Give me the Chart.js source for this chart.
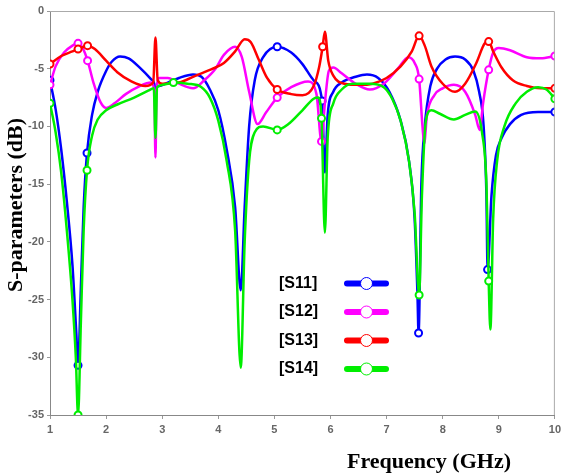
<!DOCTYPE html>
<html>
<head>
<meta charset="utf-8">
<script src="https://cdn.jsdelivr.net/npm/chart.js@4.4.1/dist/chart.umd.min.js"></script>
<style>
  html,body{margin:0;padding:0;background:#fff;}
  #wrap{width:565px;height:475px;position:relative;}
</style>
</head>
<body>
<div id="wrap"><canvas id="c"></canvas></div>
<script>
/* ---------- data ---------- */
const seriesNames = ['[S11]', '[S12]', '[S13]', '[S14]'];
const seriesColors = ['#0000ff', '#ff00ff', '#ff0000', '#00ee00'];
const xTicks = [1, 2, 3, 4, 5, 6, 7, 8, 9, 10];
const yTicks = [0, -5, -10, -15, -20, -25, -30, -35];

const s11Freq = [1.0,1.1,1.2,1.3,1.4,1.47,1.5,1.55,1.6,1.66,1.75,1.85,2.0,2.1,2.25,2.4,2.6,2.8,2.86,2.88,2.9,2.95,3.1,3.3,3.55,3.7,3.85,4.0,4.15,4.3,4.4,4.47,4.55,4.65,4.8,5.05,5.3,5.5,5.7,5.85,5.9,5.95,6.05,6.2,6.45,6.65,6.85,7.05,7.25,7.4,7.5,7.55,7.57,7.62,7.68,7.78,7.9,8.05,8.22,8.4,8.55,8.65,8.73,8.78,8.8,8.87,8.95,9.05,9.2,9.4,9.7,10];
const s11Db   = [-6.0,-8.5,-12,-16.5,-22,-28,-30.7,-24,-17,-12.3,-9,-7,-5.2,-4.4,-3.95,-4.1,-4.9,-5.9,-6.3,-7.0,-6.6,-6.5,-6.2,-5.8,-5.5,-5.7,-6.8,-8.6,-12,-17,-24.2,-17,-10,-6,-4,-3.1,-3.6,-4.6,-6,-7.8,-14,-9,-7,-6.2,-5.7,-5.5,-5.8,-7,-9.5,-13,-18,-24.5,-27.9,-15,-10,-6.5,-5,-4.2,-3.95,-4.2,-5.2,-7,-10,-16,-22.4,-16,-12.5,-11,-9.8,-9.0,-8.75,-8.75];
const s11Marks = [1, 1.5, 1.66, 5.05, 5.85, 7.57, 8.8, 10];

const s12Freq = [1.0,1.1,1.25,1.4,1.5,1.58,1.67,1.78,1.9,2.0,2.15,2.35,2.6,2.8,2.86,2.88,2.9,2.95,3.1,3.3,3.55,3.75,3.95,4.1,4.3,4.42,4.55,4.7,4.85,5.05,5.3,5.6,5.75,5.84,5.9,5.97,6.05,6.2,6.45,6.7,6.95,7.2,7.39,7.5,7.58,7.64,7.67,7.72,7.85,8.0,8.2,8.4,8.58,8.66,8.72,8.82,8.9,9.0,9.2,9.5,9.75,10];
const s12Db   = [-6.4,-4.8,-3.6,-3.0,-2.8,-3.2,-4.3,-6.3,-7.9,-8.4,-8.0,-7.2,-6.5,-6.2,-7,-12.7,-6.8,-5.8,-5.8,-6.3,-6.7,-6.0,-5.0,-3.8,-3.1,-4,-7,-9.8,-8.8,-7.5,-6.6,-6.1,-7.2,-11.3,-8,-5.2,-4.9,-5.4,-6.3,-6.8,-6.3,-5.0,-4.0,-4.5,-5.9,-10,-11.5,-9,-7.3,-6.7,-6.4,-7.0,-9,-10.3,-8,-5.1,-3.6,-3.2,-3.4,-4.0,-4.1,-3.9];
const s12Marks = [1, 1.5, 1.67, 5.05, 5.84, 7.58, 8.82, 10];

const s13Freq = [1.0,1.2,1.4,1.5,1.67,1.8,2.0,2.2,2.45,2.7,2.84,2.88,2.92,3.0,3.3,3.6,3.9,4.1,4.3,4.47,4.58,4.72,4.87,5.05,5.3,5.5,5.7,5.8,5.86,5.9,5.96,6.05,6.25,6.5,6.75,7.0,7.25,7.45,7.58,7.68,7.8,8.0,8.22,8.4,8.6,8.75,8.82,8.9,9.05,9.25,9.5,9.75,10];
const s13Db   = [-4.6,-3.9,-3.5,-3.3,-3.0,-3.3,-4.3,-5.3,-6.1,-6.5,-6.2,-2.3,-6.0,-6.3,-6.2,-5.6,-5.0,-4.5,-3.5,-2.45,-2.7,-4.2,-5.8,-6.8,-7.2,-7.3,-6.5,-4.8,-3.1,-1.8,-4.3,-5.6,-6.3,-6.4,-6.3,-5.8,-4.8,-3.5,-2.15,-3.0,-4.8,-6.3,-7.0,-6.3,-4.5,-2.8,-2.65,-3.5,-4.9,-6.0,-6.5,-6.7,-6.7];
const s13Marks = [1, 1.5, 1.67, 5.05, 5.86, 7.58, 8.82, 10];

const s14Freq = [1.0,1.1,1.2,1.3,1.4,1.46,1.5,1.55,1.6,1.66,1.75,1.85,2.0,2.2,2.5,2.75,2.85,2.88,2.91,3.0,3.2,3.45,3.7,3.85,4.0,4.15,4.3,4.4,4.47,4.55,4.65,4.8,5.05,5.25,5.5,5.7,5.78,5.84,5.9,5.95,6.05,6.2,6.4,6.7,6.95,7.1,7.25,7.4,7.5,7.58,7.63,7.7,7.8,7.95,8.2,8.4,8.58,8.7,8.78,8.82,8.85,8.9,8.97,9.1,9.3,9.5,9.7,9.85,10];
const s14Db   = [-8.0,-10.5,-14,-19,-25,-30,-35,-27,-19,-13.8,-10.8,-9.4,-8.6,-8.1,-7.5,-6.9,-6.7,-11,-6.6,-6.4,-6.2,-6.3,-6.6,-7.5,-9.5,-13,-19,-30.9,-20,-13,-10.5,-10.0,-10.3,-9.8,-8.6,-7.6,-7.5,-9.3,-19.2,-11,-8,-6.8,-6.3,-6.3,-6.6,-7.6,-9.5,-13,-17.5,-24.6,-16,-9.5,-8.6,-8.9,-9.4,-9.0,-8.7,-10.5,-15,-23.4,-27.6,-18,-13,-10,-8,-7,-6.6,-6.8,-7.6];
const s14Marks = [1, 1.5, 1.66, 3.2, 5.05, 5.84, 7.58, 8.82, 10];

const allFreq  = [s11Freq, s12Freq, s13Freq, s14Freq];
const allDb    = [s11Db, s12Db, s13Db, s14Db];
const allMarks = [s11Marks, s12Marks, s13Marks, s14Marks];

/* ---------- helpers ---------- */
const toPts = (fs, ds) => fs.map((f, i) => ({x: f, y: ds[i]}));

const datasets = seriesNames.map((name, k) => ({
  label: name,
  data: toPts(allFreq[k], allDb[k]),
  borderColor: seriesColors[k],
  backgroundColor: '#fff',
  pointBorderColor: seriesColors[k],
  pointBackgroundColor: '#fff',
  borderWidth: 2.5,
  pointBorderWidth: 2,
  pointRadius: ctx => allMarks[k].includes(ctx.raw && ctx.raw.x) ? 3.5 : 0,
  pointHoverRadius: 0,
  cubicInterpolationMode: 'monotone',
  fill: false,
  order: 3 - k          // S14 on top, S11 at the bottom
}));

const titleFont = 'bold 22px "Liberation Serif", "Times New Roman", serif';

/* ---------- frame, axis titles, legend ---------- */
const extras = {
  id: 'extras',
  afterDraw(chart) {
    const {ctx, chartArea: a} = chart;
    ctx.save();
    ctx.strokeStyle = '#aaa';
    ctx.lineWidth = 1;
    ctx.beginPath();
    ctx.moveTo(a.left, a.top + 0.5);
    ctx.lineTo(a.right - 0.5, a.top + 0.5);
    ctx.lineTo(a.right - 0.5, a.bottom);
    ctx.stroke();

    ctx.fillStyle = '#000';
    ctx.font = titleFont;
    ctx.textAlign = 'center';
    ctx.textBaseline = 'middle';
    ctx.fillText('Frequency (GHz)', 429, 462);

    ctx.save();
    ctx.translate(16, 205);
    ctx.rotate(-Math.PI / 2);
    ctx.fillText('S-parameters (dB)', 0, 0);
    ctx.restore();

    // legend inside plot
    seriesNames.forEach((name, i) => {
      const y = 283.5 + i * 28.5;
      ctx.font = 'bold 16px "Liberation Sans", Arial, sans-serif';
      ctx.textAlign = 'left';
      ctx.fillStyle = '#000';
      ctx.fillText(name, 279, y);
      ctx.strokeStyle = seriesColors[i];
      ctx.lineWidth = 6;
      ctx.lineCap = 'round';
      ctx.beginPath();
      ctx.moveTo(347, y);
      ctx.lineTo(386, y);
      ctx.stroke();
      ctx.beginPath();
      ctx.arc(366.5, y, 6, 0, Math.PI * 2);
      ctx.fillStyle = '#fff';
      ctx.fill();
      ctx.lineWidth = 1;
      ctx.stroke();
    });
    ctx.restore();
  }
};

new Chart(document.getElementById('c'), {
  type: 'line',
  data: {datasets},
  options: {
    responsive: true, maintainAspectRatio: false,
    animation: false,
    layout: {padding: {top: 11, right: 4, left: 0, bottom: 0}},
    plugins: {legend: {display: false}, tooltip: {enabled: false}},
    scales: {
      x: {
        type: 'linear', min: 1, max: 10,
        afterBuildTicks: s => { s.ticks = xTicks.map(v => ({value: v})); },
        afterFit: s => { s.height = 60; },
        grid: {drawOnChartArea: false, tickLength: 4, color: '#999'},
        border: {color: '#888'},
        ticks: {color: '#666', padding: 4, font: {size: 11, weight: 'bold', family: '"Liberation Sans", Arial, sans-serif'}}
      },
      y: {
        min: -35, max: 0,
        afterBuildTicks: s => { s.ticks = yTicks.map(v => ({value: v})); },
        afterFit: s => { s.width = 50; },
        grid: {drawOnChartArea: false, tickLength: 3, color: '#999'},
        border: {color: '#888'},
        ticks: {color: '#666', padding: 3, font: {size: 11, weight: 'bold', family: '"Liberation Sans", Arial, sans-serif'}}
      }
    }
  },
  plugins: [extras]
});
</script>
</body>
</html>
